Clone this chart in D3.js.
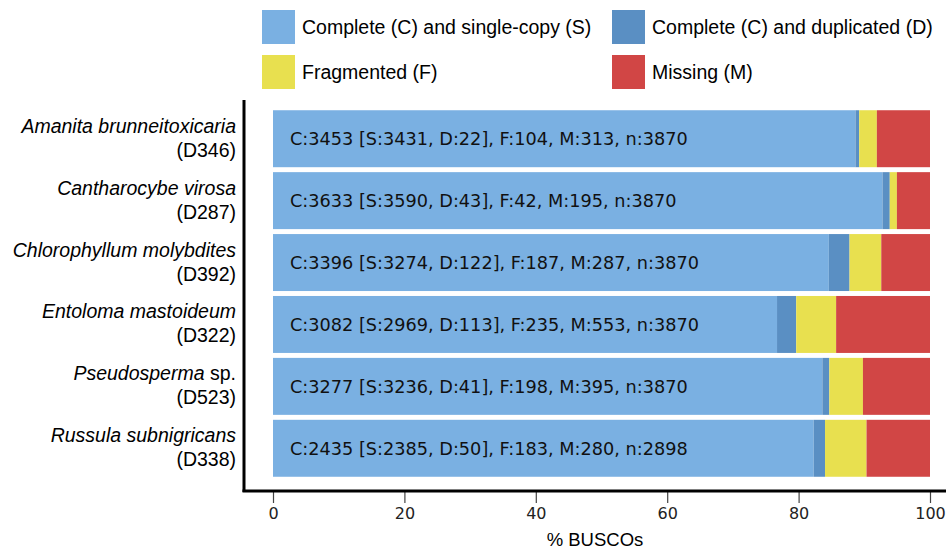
<!DOCTYPE html>
<html>
<head>
<meta charset="utf-8">
<script src="https://d3js.org/d3.v7.min.js"></script>
<style>
  body { margin: 0; background: #fff; }
</style>
</head>
<body>
<div class="wrapper"></div>
<script>
// species shown on the y axis (italic part, plain suffix, voucher)
var species = ["Amanita brunneitoxicaria", "Cantharocybe virosa", "Chlorophyllum molybdites",
               "Entoloma mastoideum", "Pseudosperma", "Russula subnigricans"];
var suffixes = ["", "", "", "", " sp.", ""];
var vouchers = ["D346", "D287", "D392", "D322", "D523", "D338"];

// BUSCO counts
var single     = [3431, 3590, 3274, 2969, 3236, 2385];
var duplicated = [22, 43, 122, 113, 41, 50];
var fragmented = [104, 42, 187, 235, 198, 183];
var missing    = [313, 195, 287, 553, 395, 280];
var total      = [3870, 3870, 3870, 3870, 3870, 2898];

var xTicks = [0, 20, 40, 60, 80, 100];
var keys = ["S", "D", "F", "M"];
var legendLabels = ["Complete (C) and single-copy (S)", "Complete (C) and duplicated (D)",
                    "Fragmented (F)", "Missing (M)"];

var width = 946, height = 549;

var svg = d3.select(".wrapper")
  .append("svg")
    .attr("width", width)
    .attr("height", height);

var color = d3.scaleOrdinal()
  .domain(keys)
  .range(["#7ab0e2", "#5a8fc3", "#e8e04f", "#d14645"]);

// build rows as percentages
var rows = species.map(function(s, i) {
  return {
    name: s, idx: i,
    S: single[i] / total[i] * 100,
    D: duplicated[i] / total[i] * 100,
    F: fragmented[i] / total[i] * 100,
    M: missing[i] / total[i] * 100
  };
});

var x = d3.scaleLinear().domain([0, 100]).range([273, 930]);
var y = d3.scaleBand().domain(species).range([109, 478]).paddingInner(0.08).paddingOuter(0.02);

var stacked = d3.stack().keys(keys)(rows);

// bars
svg.append("g")
  .selectAll("g")
  .data(stacked)
  .enter().append("g")
    .attr("fill", function(d) { return color(d.key); })
  .selectAll("rect")
  .data(function(d) { return d; })
  .enter().append("rect")
    .attr("x", function(d) { return x(d[0]); })
    .attr("y", function(d) { return y(d.data.name); })
    .attr("width", function(d) { return x(d[1]) - x(d[0]); })
    .attr("height", y.bandwidth());

// summary text in each bar
svg.append("g")
  .selectAll("text")
  .data(rows)
  .enter().append("text")
    .attr("x", x(0) + 17)
    .attr("y", function(d) { return y(d.name) + y.bandwidth() / 2; })
    .attr("dy", "0.36em")
    .style("font-family", "DejaVu Sans")
    .style("font-size", "17.7px")
    .style("fill", "#111")
    .text(function(d) {
      var i = d.idx;
      return "C:" + (single[i] + duplicated[i]) + " [S:" + single[i] + ", D:" + duplicated[i] +
             "], F:" + fragmented[i] + ", M:" + missing[i] + ", n:" + total[i];
    });

// y labels
var ylab = svg.append("g")
  .selectAll("text")
  .data(rows)
  .enter().append("text")
    .attr("text-anchor", "end")
    .style("font-family", "Liberation Sans, Arial")
    .style("font-size", "19.5px")
    .style("fill", "#000");

ylab.append("tspan")
    .attr("x", 236)
    .attr("y", function(d) { return y(d.name) + y.bandwidth() / 2 - 6; })
    .style("font-style", "italic")
    .text(function(d) { return d.name; })
  .append("tspan")
    .style("font-style", "normal")
    .text(function(d) { return suffixes[d.idx]; });

ylab.append("tspan")
    .attr("x", 236)
    .attr("y", function(d) { return y(d.name) + y.bandwidth() / 2 + 18; })
    .text(function(d) { return "(" + vouchers[d.idx] + ")"; });

// x axis
var xAxis = svg.append("g")
  .attr("transform", "translate(0,491)")
  .call(d3.axisBottom(x).tickValues(xTicks).tickSize(12).tickPadding(5).tickFormat(d3.format("d")));
xAxis.select(".domain").remove();
xAxis.selectAll(".tick line").attr("stroke", "#444").attr("stroke-width", 1.2);
xAxis.selectAll(".tick text")
  .style("font-family", "DejaVu Sans")
  .style("font-size", "16px")
  .style("fill", "#222");

// frame lines (left and bottom)
svg.append("line")
  .attr("x1", 244).attr("x2", 244).attr("y1", 100).attr("y2", 492)
  .attr("stroke", "#000").attr("stroke-width", 3);
svg.append("line")
  .attr("x1", 242.5).attr("x2", width).attr("y1", 491).attr("y2", 491)
  .attr("stroke", "#000").attr("stroke-width", 3);

// x title
svg.append("text")
  .attr("x", 595)
  .attr("y", 546)
  .attr("text-anchor", "middle")
  .style("font-family", "Liberation Sans, Arial")
  .style("font-size", "18.5px")
  .style("fill", "#000")
  .text("% BUSCOs");

// legend
var legPos = [[262, 10], [612, 10], [262, 55], [612, 55]];
var leg = svg.append("g")
  .selectAll("g")
  .data(keys)
  .enter().append("g")
    .attr("transform", function(d, i) { return "translate(" + legPos[i][0] + "," + legPos[i][1] + ")"; });
leg.append("rect")
  .attr("width", 33).attr("height", 34)
  .attr("fill", function(d) { return color(d); });
leg.append("text")
  .attr("x", 40).attr("y", 17).attr("dy", "0.35em")
  .style("font-family", "Liberation Sans, Arial")
  .style("font-size", "19.5px")
  .style("fill", "#000")
  .text(function(d, i) { return legendLabels[i]; });
</script>
</body>
</html>
